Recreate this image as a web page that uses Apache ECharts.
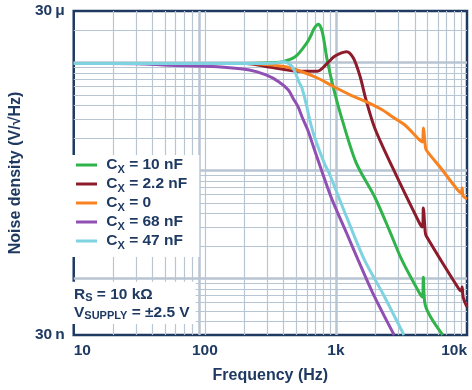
<!DOCTYPE html>
<html>
<head>
<meta charset="utf-8">
<script src="https://cdn.jsdelivr.net/npm/echarts@6/dist/echarts.min.js"></script>
<style>
html,body{margin:0;padding:0;background:#fff;}
#chart{width:472px;height:390px;}
</style>
</head>
<body>
<div id="chart"></div>
<script>
// ---- data ----
const legendLabels = ['10 nF', '2.2 nF', '0', '68 nF', '47 nF'];
const xTickValues = [10, 100, 1000, 10000];
const xTickLabels = ['10', '100', '1k', '10k'];
const yTickValues = [3e-8, 3e-5];
const yTickLabels = ['30\u2009n', '30\u2009\u03bc'];

const cx10nF = [[10,9.8e-6],[175,9.8e-6],[293,9.9e-6],[392,1.02e-5],[489,1.13e-5],[600,1.52e-5],[642,1.76e-5],[687,2.09e-5],[736,2.26e-5],[787,1.92e-5],[858,1.055e-5],[966,5.57e-6],[1107,3.06e-6],[1431,1.17e-6],[1977,5.69e-7],[2553,2.81e-7],[3190,1.48e-7],[4337,7.34e-8],[4570,6.74e-8],[4645,1.03e-7],[4800,5.69e-8],[6531,3.0e-8]];
const cx2n2F = [[10,9.8e-6],[208,9.8e-6],[308,9.1e-6],[551,8.3e-6],[723,8.3e-6],[858,9.8e-6],[966,1.13e-5],[1089,1.22e-5],[1206,1.26e-5],[1359,1.10e-5],[1531,7.39e-6],[1698,4.5e-6],[1977,2.48e-6],[2691,1.08e-6],[4337,3.27e-7],[4570,3.0e-7],[4645,4.5e-7],[4800,2.7e-7],[4889,2.48e-7],[8577,8.17e-8],[9034,7.66e-8],[9185,8.35e-8],[9340,6.74e-8],[10000,5.45e-8]];
const cx0 = [[10,9.8e-6],[208,9.8e-6],[293,9.6e-6],[412,9.14e-6],[551,8.22e-6],[723,7.19e-6],[966,5.97e-6],[1291,5.0e-6],[1698,4.34e-6],[2268,3.63e-6],[2691,3.15e-6],[3360,2.64e-6],[4337,1.92e-6],[4570,1.84e-6],[4645,2.48e-6],[4800,1.72e-6],[4889,1.55e-6],[6310,1.055e-6],[8150,7.03e-7],[9034,6.19e-7],[9185,6.89e-7],[9340,5.81e-7],[10000,5.45e-7]];
const cx68nF = [[10,9.8e-6],[30,9.75e-6],[53,9.45e-6],[125,9.14e-6],[219,8.52e-6],[293,7.67e-6],[366,6.65e-6],[434,5.57e-6],[472,4.65e-6],[514,3.9e-6],[551,3.15e-6],[610,2.37e-6],[687,1.55e-6],[918,5.69e-7],[1206,2.64e-7],[1479,1.48e-7],[1911,7.34e-8],[2782,3.0e-8]];
const cx47nF = [[10,9.8e-6],[293,9.8e-6],[347,9.9e-6],[398,1.02e-5],[434,9.8e-6],[464,9.14e-6],[489,8.1e-6],[523,6.6e-6],[551,5.81e-6],[600,3.9e-6],[631,2.94e-6],[687,2.04e-6],[815,1.17e-6],[887,9.48e-7],[1206,3.72e-7],[1654,1.48e-7],[2268,7.34e-8],[3303,3.0e-8]];

const xGrid = [20,30,40,50,60,70,80,90,100,200,300,400,500,600,700,800,900,1000,2000,3000,4000,5000,6000,7000,8000,9000];
const xThick = [90, 1000];
const yGrid = [4e-8,5e-8,6e-8,7e-8,8e-8,9e-8,1e-7,2e-7,3e-7,4e-7,5e-7,6e-7,7e-7,8e-7,9e-7,1e-6,2e-6,3e-6,4e-6,5e-6,6e-6,7e-6,8e-6,9e-6,1e-5,2e-5];
const yThick = [1e-7, 1e-6, 1e-5];
const xMin = 10, xMax = 10000, yMin = 3e-8, yMax = 3e-5;

// ---- styles ----
const NAVY = '#1f3a62';
const GRIDC = '#b8c5d2';
const colors = ['#2fb34a', '#8c1c2c', '#f7821f', '#9050b3', '#7fd2e0'];
const seriesData = [cx10nF, cx2n2F, cx0, cx68nF, cx47nF];
const FONT = 'Liberation Sans, Arial, sans-serif';

function near(a, b) { return Math.abs(Math.log10(a) - Math.log10(b)) < 0.01; }

const gridMarks = [];
xGrid.forEach(v => {
  const w = xThick.indexOf(v) >= 0 ? 2.5 : 1.2;
  gridMarks.push([{ coord: [v, yMin], lineStyle: { width: w } }, { coord: [v, yMax] }]);
});
yGrid.forEach(v => {
  const w = yThick.indexOf(v) >= 0 ? 2.5 : 1.2;
  gridMarks.push([{ coord: [xMin, v], lineStyle: { width: w } }, { coord: [xMax, v] }]);
});

const series = seriesData.map((d, i) => ({
  name: legendLabels[i],
  type: 'line',
  data: d,
  showSymbol: false,
  symbol: 'none',
  smooth: 0.3,
  lineStyle: { color: colors[i], width: 3 },
  itemStyle: { color: colors[i] },
  z: 2 + i * 0.01,
  silent: true
}));
series[0].markLine = {
  z: 1,
  silent: true,
  symbol: 'none',
  label: { show: false },
  emphasis: { disabled: true },
  lineStyle: { color: GRIDC, type: 'solid', width: 1.2 },
  data: gridMarks
};

const rich = {
  m: { fontSize: 15.5, fontWeight: 'bold', color: NAVY, fontFamily: FONT, lineHeight: 20 },
  s: { fontSize: 11, fontWeight: 'bold', color: NAVY, fontFamily: FONT, lineHeight: 20, verticalAlign: 'bottom' }
};
const rich2 = {
  m: { fontSize: 15.5, fontWeight: 'bold', color: NAVY, fontFamily: FONT, lineHeight: 17.5 },
  s: { fontSize: 11, fontWeight: 'bold', color: NAVY, fontFamily: FONT, lineHeight: 17.5, verticalAlign: 'bottom' }
};

const chart = echarts.init(document.getElementById('chart'), null, { renderer: 'canvas' });
chart.setOption({
  animation: false,
  backgroundColor: '#fff',
  textStyle: { fontFamily: FONT },
  grid: { left: 62, top: 11, right: 5, bottom: 55, show: true, borderColor: NAVY, borderWidth: 2.5, backgroundColor: '#fff' },
  title: {
    text: '{m|R}{s|S}{m| = 10 k\u03a9}\n{m|V}{s|SUPPLY}{m| = \u00b12.5 V}',
    left: 68, top: 281,
    padding: [5, 6, 3, 6],
    backgroundColor: '#fff',
    textStyle: { rich: rich2 }
  },
  legend: {
    orient: 'vertical',
    left: 68, top: 155,
    padding: [2, 12, 6, 8],
    backgroundColor: '#fff',
    itemWidth: 21, itemHeight: 3,
    itemGap: 1,
    icon: 'rect',
    selectedMode: false,
    data: legendLabels,
    formatter: n => '{m| C}{s|X}{m| = ' + n + '}',
    textStyle: { rich: rich }
  },
  xAxis: {
    type: 'log', logBase: 10, min: xMin, max: xMax,
    name: 'Frequency (Hz)', nameLocation: 'middle', nameGap: 33,
    nameTextStyle: { fontSize: 16, fontWeight: 'bold', color: NAVY, fontFamily: FONT },
    axisLine: { show: false },
    axisTick: { show: false },
    splitLine: { show: false },
    minorSplitLine: { show: false },
    axisLabel: {
      margin: 8, fontSize: 15.5, fontWeight: 'bold', color: NAVY, fontFamily: FONT,
      alignMinLabel: 'left', alignMaxLabel: 'right',
      formatter: v => { for (let i = 0; i < xTickValues.length; i++) if (near(v, xTickValues[i])) return xTickLabels[i]; return ''; }
    }
  },
  yAxis: {
    type: 'log', logBase: 10, min: yMin, max: yMax,
    name: 'Noise density (V/\u221aHz)', nameLocation: 'middle', nameGap: 38,
    nameTextStyle: { fontSize: 16, fontWeight: 'bold', color: NAVY, fontFamily: FONT },
    axisLine: { show: false },
    axisTick: { show: false },
    splitLine: { show: false },
    axisLabel: {
      margin: 9, fontSize: 15.5, fontWeight: 'bold', color: NAVY, fontFamily: FONT,
      showMinLabel: true, showMaxLabel: true,
      formatter: v => { for (let i = 0; i < yTickValues.length; i++) if (near(v, yTickValues[i])) return yTickLabels[i]; return ''; }
    }
  },
  series: series
});
</script>
</body>
</html>
